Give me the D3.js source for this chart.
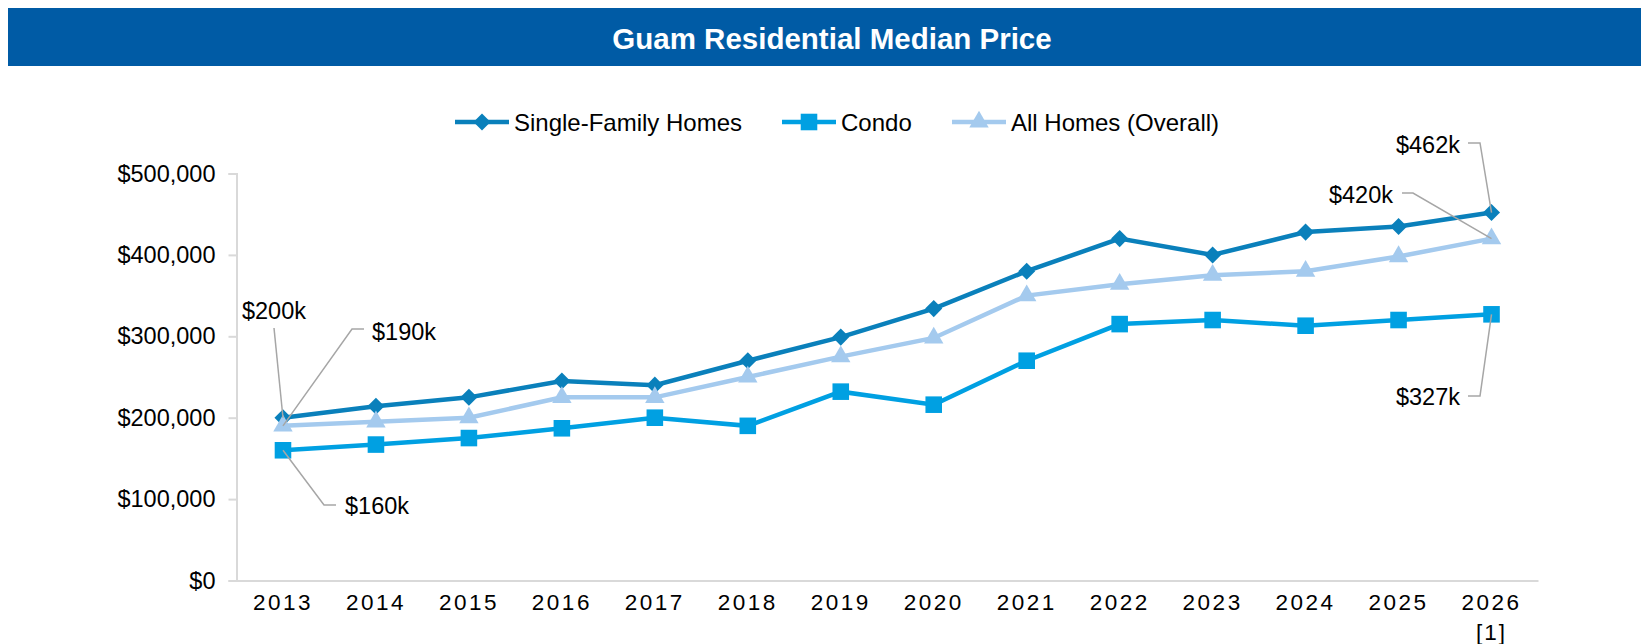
<!DOCTYPE html>
<html>
<head>
<meta charset="utf-8">
<script src="https://cdn.jsdelivr.net/npm/d3@7"></script>
<style>
  body { margin: 0; background: #fff; }
  text { font-family: "Liberation Sans", Arial, sans-serif; }
</style>
</head>
<body>
<div id="chart"></div>
<script>
// data
const years = ["2013", "2014", "2015", "2016", "2017", "2018", "2019", "2020", "2021", "2022", "2023", "2024", "2025", "2026"];
const singleFamily = [200000, 214000, 225000, 245000, 240000, 270000, 299000, 334000, 380000, 420000, 400000, 428000, 435000, 452000];
const condo = [160000, 167000, 175000, 187000, 200000, 190000, 232000, 216000, 270000, 315000, 320000, 313000, 320000, 327000];
const allHomes = [190000, 195000, 200000, 225000, 225000, 250000, 275000, 298000, 350000, 364000, 375000, 380000, 398000, 420000];
const yTicks = [0, 100000, 200000, 300000, 400000, 500000];
const seriesNames = ["Single-Family Homes", "Condo", "All Homes (Overall)"];

// callout labels: [series index, year index, text]
const callouts = [
    [0, 0, "$200k"], [2, 0, "$190k"], [1, 0, "$160k"],
    [0, 13, "$462k"], [2, 13, "$420k"], [1, 13, "$327k"]
];

const W = 1646, H = 644;
const colors = ["#0a80bb", "#00a0e2", "#a4caee"];
const symbols = [d3.symbolDiamond2, d3.symbolSquare2, d3.symbolTriangle2];
const symSize = [185, 350, 270];

const svg = d3.select("#chart").append("svg")
    .attr("width", W)
    .attr("height", H);

// title bar
svg.append("rect")
    .attr("x", 8).attr("y", 8)
    .attr("width", 1633).attr("height", 58)
    .attr("fill", "#005ba5");
svg.append("text")
    .attr("x", 832).attr("y", 38)
    .attr("text-anchor", "middle")
    .attr("dominant-baseline", "central")
    .attr("fill", "#fff")
    .attr("font-size", 29.5)
    .attr("font-weight", "bold")
    .text("Guam Residential Median Price");

const x = d3.scaleBand().domain(years).range([236.5, 1538]);
const y = d3.scaleLinear().domain([0, 500000]).range([580.5, 173.5]);
const cx = i => x(years[i]) + x.bandwidth() / 2;

// y axis
const yAxis = svg.append("g")
    .attr("transform", "translate(236.5,0)")
    .call(d3.axisLeft(y).tickValues(yTicks).tickSize(8).tickPadding(13)
        .tickFormat(d => "$" + d3.format(",")(d)));
yAxis.select(".domain").attr("stroke", "#d9d9d9").attr("stroke-width", 2);
yAxis.selectAll(".tick line").attr("stroke", "#d9d9d9").attr("stroke-width", 2);
yAxis.selectAll(".tick text").attr("font-size", 23.5).attr("fill", "#000")
    .attr("font-family", "'Liberation Sans', Arial, sans-serif");

// x axis
const xAxis = svg.append("g")
    .attr("transform", "translate(0,580.5)")
    .call(d3.axisBottom(x).tickSize(0).tickPadding(14));
xAxis.select(".domain").attr("stroke", "#d9d9d9").attr("stroke-width", 2);
xAxis.selectAll(".tick text").attr("font-size", 22.5).attr("fill", "#000")
    .attr("letter-spacing", "2.5px")
    .attr("font-family", "'Liberation Sans', Arial, sans-serif");
svg.append("text")
    .attr("x", cx(13)).attr("y", 640)
    .attr("text-anchor", "middle")
    .attr("font-size", 22.5)
    .attr("letter-spacing", "2px")
    .text("[1]");

// lines + markers
const allSeries = [singleFamily, condo, allHomes];
const line = d3.line().x((d, i) => cx(i)).y(d => y(d));
[0, 1, 2].forEach(s => {
    svg.append("path")
        .datum(allSeries[s])
        .attr("fill", "none")
        .attr("stroke", colors[s])
        .attr("stroke-width", 4.5)
        .attr("d", line);
    svg.append("g").selectAll("path")
        .data(allSeries[s])
        .join("path")
        .attr("transform", (d, i) => `translate(${cx(i)},${y(d)})`)
        .attr("d", d3.symbol().type(symbols[s]).size(symSize[s]))
        .attr("fill", colors[s]);
});

// callouts (label position + elbow of the leader line)
const calloutPos = {
    "0-0": { tx: 274, ty: 311, anchor: "middle", path: [[274, 328]] },
    "2-0": { tx: 372, ty: 332, anchor: "start", path: [[364, 329], [352, 329]] },
    "1-0": { tx: 345, ty: 506, anchor: "start", path: [[336, 505], [324, 505]] },
    "0-13": { tx: 1460, ty: 145, anchor: "end", path: [[1468, 143], [1480, 143]] },
    "2-13": { tx: 1393, ty: 195, anchor: "end", path: [[1402, 193], [1413, 193]] },
    "1-13": { tx: 1460, ty: 397, anchor: "end", path: [[1468, 396], [1480, 396]] }
};
callouts.forEach(([s, i, label]) => {
    const p = calloutPos[s + "-" + i];
    const pts = p.path.concat([[cx(i), y(allSeries[s][i])]]);
    svg.append("path")
        .attr("d", d3.line()(pts))
        .attr("fill", "none")
        .attr("stroke", "#a6a6a6")
        .attr("stroke-width", 1.5);
    svg.append("text")
        .attr("x", p.tx).attr("y", p.ty)
        .attr("text-anchor", p.anchor)
        .attr("dominant-baseline", "central")
        .attr("font-size", 23.5)
        .text(label);
});

// legend
const legendX = [455, 782, 952];
const legend = svg.append("g").attr("transform", "translate(0,122)");
seriesNames.forEach((name, s) => {
    const g = legend.append("g").attr("transform", `translate(${legendX[s]},0)`);
    g.append("line")
        .attr("x1", 0).attr("x2", 54)
        .attr("stroke", colors[s]).attr("stroke-width", 4.5);
    g.append("path")
        .attr("transform", "translate(27,0)")
        .attr("d", d3.symbol().type(symbols[s]).size(symSize[s]))
        .attr("fill", colors[s]);
    g.append("text")
        .attr("x", 59)
        .attr("dominant-baseline", "central")
        .attr("font-size", 24)
        .text(name);
});
</script>
</body>
</html>
